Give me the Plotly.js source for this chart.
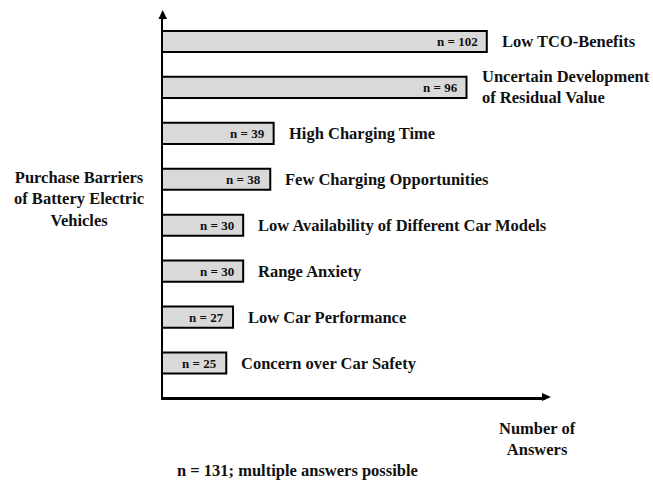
<!DOCTYPE html>
<html>
<head>
<meta charset="utf-8">
<script src="https://cdn.plot.ly/plotly-3.0.1.min.js"></script>
<style>html,body{margin:0;padding:0;background:#fff;}#chart{width:653px;height:482px;}</style>
</head>
<body>
<div id="chart"></div>
<script>
// Data (top to bottom)
const categories = [
  "Low TCO-Benefits",
  "Uncertain Development<br>of Residual Value",
  "High Charging Time",
  "Few Charging Opportunities",
  "Low Availability of Different Car Models",
  "Range Anxiety",
  "Low Car Performance",
  "Concern over Car Safety"
];
const answers = [102, 96, 39, 38, 30, 30, 27, 25];
const valueLabels = answers.map(v => "n = " + v);
const yTitle = "Purchase Barriers<br>of Battery Electric<br>Vehicles";
const xTitle = "Number of<br>Answers";
const note = "n = 131; multiple answers possible";

const FONT = "Liberation Serif, Times New Roman, serif";
const INK = "#111111";

// plot area in pixels
const L = 163, R = 545, T = 15, B = 397;
const W = 653, H = 482;
const px2x = p => (p - L) / (R - L);
const px2y = p => (B - p) / (B - T);

const ids = categories.map((c, i) => i);

const trace = {
  type: "bar",
  orientation: "h",
  y: ids,
  x: answers,
  width: 0.46,
  marker: {color: "#d9d9d9", line: {color: "#000000", width: 2}},
  hoverinfo: "none"
};

const annotations = [];
categories.forEach((c, i) => {
  annotations.push({
    x: answers[i], y: i, xref: "x", yref: "y",
    text: valueLabels[i], showarrow: false,
    xanchor: "right", xshift: -7,
    font: {family: FONT, size: 13, weight: "bold", color: INK}
  });
  annotations.push({
    x: answers[i], y: i, xref: "x", yref: "y",
    text: c, showarrow: false, align: "left",
    xanchor: "left", xshift: 13,
    font: {family: FONT, size: 16.5, weight: "bold", color: INK}
  });
});
annotations.push({
  x: px2x(79), y: px2y(199), xref: "paper", yref: "paper",
  text: yTitle, showarrow: false, align: "center",
  xanchor: "center", yanchor: "middle",
  font: {family: FONT, size: 16.5, weight: "bold", color: INK}
});
annotations.push({
  x: px2x(537), y: px2y(439), xref: "paper", yref: "paper",
  text: xTitle, showarrow: false, align: "center",
  xanchor: "center", yanchor: "middle",
  font: {family: FONT, size: 16.5, weight: "bold", color: INK}
});
annotations.push({
  x: px2x(297), y: px2y(470), xref: "paper", yref: "paper",
  text: note, showarrow: false, align: "center",
  xanchor: "center", yanchor: "middle",
  font: {family: FONT, size: 16.5, weight: "bold", color: INK}
});

const shapes = [
  // y-axis arrowhead
  {type: "path", xref: "paper", yref: "paper",
   path: `M ${px2x(162.7)} ${px2y(10)} L ${px2x(158.5)} ${px2y(19)} L ${px2x(167)} ${px2y(19)} Z`,
   fillcolor: "#000", line: {width: 0}},
  // x-axis arrowhead
  {type: "path", xref: "paper", yref: "paper",
   path: `M ${px2x(551)} ${px2y(397)} L ${px2x(542)} ${px2y(393)} L ${px2x(542)} ${px2y(401)} Z`,
   fillcolor: "#000", line: {width: 0}}
];

const layout = {
  width: W, height: H,
  margin: {l: L, r: W - R, t: T, b: H - B, pad: 0},
  paper_bgcolor: "#ffffff", plot_bgcolor: "#ffffff",
  showlegend: false,
  font: {family: FONT, color: INK},
  xaxis: {
    range: [6.3, 119.2], showgrid: false, zeroline: false,
    showticklabels: false, ticks: "", showline: true,
    linecolor: "#000", linewidth: 2.5, fixedrange: true
  },
  yaxis: {
    range: [7.74, -0.577], showgrid: false, zeroline: false,
    showticklabels: false, ticks: "", showline: true,
    linecolor: "#000", linewidth: 2.5, fixedrange: true
  },
  annotations: annotations,
  shapes: shapes
};

Plotly.newPlot("chart", [trace], layout, {displayModeBar: false, staticPlot: true});
</script>
</body>
</html>
